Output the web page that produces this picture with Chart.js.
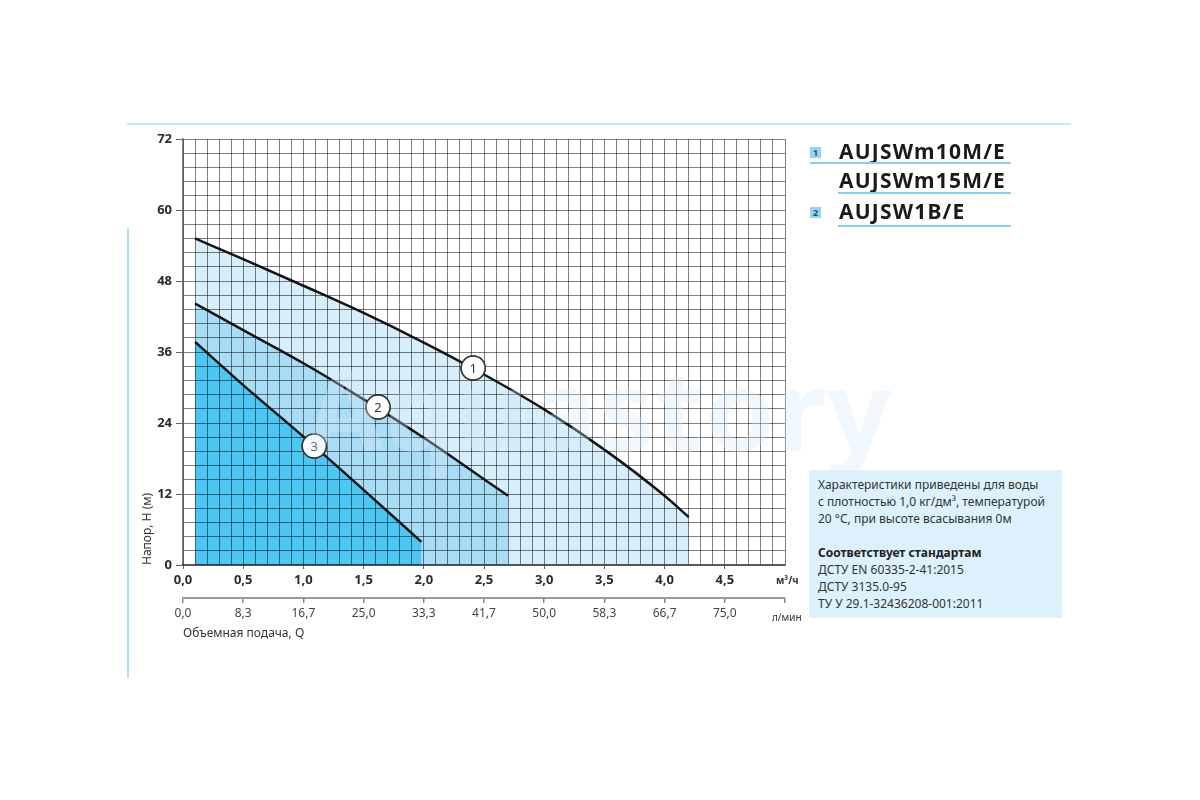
<!DOCTYPE html>
<html>
<head>
<meta charset="utf-8">
<script src="https://cdn.jsdelivr.net/npm/chart.js@4.4.1/dist/chart.umd.min.js"></script>
<style>
  body { margin: 0; background: #fff; font-family: "Noto Sans", sans-serif; color: #333; }
  #wrap { position: relative; width: 1200px; height: 800px; overflow: hidden; }
  #pumpChart { position: absolute; left: 0; top: 0; }
  .deco-h { position: absolute; left: 127px; top: 123px; width: 944px; height: 2px; background: #cbe8f6; }
  .deco-v { position: absolute; left: 127px; top: 228px; width: 2px; height: 450px; background: #b3dff4; }
  .unit { position: absolute; font-size: 10px; color: #333; }
  .num { position: absolute; left: 810px; width: 11px; height: 11px; background: #93d4f2;
         font-size: 9px; font-weight: bold; line-height: 11px; text-align: center; color: #1d4f6a; }
  .name { position: absolute; left: 839px; font-size: 21px; font-weight: bold; letter-spacing: 1.2px;
          color: #1a1a1a; line-height: 24px; }
  .uline { position: absolute; height: 2px; background: #83cfef; }
  #info { position: absolute; left: 809px; top: 470px; width: 253px; height: 148px; background: #dcf1fb;
          font-size: 12px; line-height: 17px; color: #333; box-sizing: border-box; padding: 6px 0 0 9px; }
  #info b { color: #222; }
  #watermark { position: absolute; left: 306px; top: 352px; font-size: 112px; font-weight: bold; line-height: 1;
               color: rgba(214,234,248,0.33); pointer-events: none; letter-spacing: 1px; }
</style>
</head>
<body>
<div id="wrap">
  <div class="deco-h"></div>
  <div class="deco-v"></div>
  <canvas id="pumpChart" width="1200" height="800"></canvas>
  <div id="watermark">Aquastory</div>
  <div class="unit" style="left:776px; top:573px; font-weight:bold;">м³/ч</div>
  <div class="unit" style="left:772px; top:610px;">л/мин</div>
  <div id="legend"></div>
  <div id="info">
    Характеристики приведены для воды<br>
    с плотностью 1,0 кг/дм³, температурой<br>
    20 °C, при высоте всасывания 0м<br>
    <br>
    <b>Соответствует стандартам</b><br>
    ДСТУ EN 60335-2-41:2015<br>
    ДСТУ 3135.0-95<br>
    ТУ У 29.1-32436208-001:2011
  </div>
</div>
<script>
// pump curves: flow Q (m3/h) -> head H (m)
const curve1Q = [0.1, 0.5, 1.0, 1.5, 2.0, 2.5, 3.0, 3.5, 4.0, 4.2];
const curve1H = [55.2, 51.7, 47.2, 42.6, 37.6, 32.2, 26.3, 19.5, 11.7, 8.1];
const curve2Q = [0.1, 0.5, 1.0, 1.5, 2.0, 2.5, 2.7];
const curve2H = [44.2, 39.7, 34.1, 28.0, 21.5, 14.5, 11.7];
const curve3Q = [0.1, 0.5, 1.0, 1.5, 1.98];
const curve3H = [37.7, 30.4, 21.7, 12.7, 3.9];

// numbered circles sitting on the curves
const markerQ = [2.41, 1.62, 1.09];
const markerH = [33.3, 26.7, 20.1];
const markerText = ['1', '2', '3'];

// second axis labels (l/min for every 0.5 m3/h)
const litreTicks = ['0,0', '8,3', '16,7', '25,0', '33,3', '41,7', '50,0', '58,3', '66,7', '75,0'];

const legendNums = ['1', '', '2'];
const legendNames = ['AUJSWm10M/E', 'AUJSWm15M/E', 'AUJSW1B/E'];

const fillColors = ['#d6effb', '#a8ddf6', '#4cc7f3'];

// legend rows: text top, underline top, underline start
const legendTextTop = [139, 168, 199];
const legendLineTop = [162, 192, 225];
const legendLineLeft = [810, 838, 838];

const legendEl = document.getElementById('legend');
legendNames.forEach((name, i) => {
  let html = '';
  if (legendNums[i]) {
    html += '<div class="num" style="top:' + (legendTextTop[i] + 8) + 'px">' + legendNums[i] + '</div>';
  }
  html += '<div class="name" style="top:' + legendTextTop[i] + 'px">' + name + '</div>';
  html += '<div class="uline" style="top:' + legendLineTop[i] + 'px; left:' + legendLineLeft[i] +
          'px; width:' + (1011 - legendLineLeft[i]) + 'px"></div>';
  legendEl.insertAdjacentHTML('beforeend', html);
});

const toPoints = (qs, hs) => qs.map((q, i) => ({ x: q, y: hs[i] }));
const fmt = v => v.toFixed(1).replace('.', ',');
const isMajor = (v, step) => Math.abs(v / step - Math.round(v / step)) < 1e-6;

// circles go on top of the grid, so redraw them last
const markerPlugin = {
  id: 'markers',
  afterDraw(chart) {
    const ctx = chart.ctx;
    const meta = chart.getDatasetMeta(3);
    ctx.save();
    meta.data.forEach((pt, i) => {
      pt.draw(ctx);
      ctx.fillStyle = '#333';
      ctx.font = '13px "Noto Sans"';
      ctx.textAlign = 'center';
      ctx.textBaseline = 'middle';
      ctx.fillText(markerText[i], pt.x, pt.y + 1);
    });
    ctx.restore();
  }
};

const lineDs = (qs, hs, color, order) => ({
  data: toPoints(qs, hs),
  borderColor: '#151515',
  borderWidth: 2.5,
  backgroundColor: color,
  fill: 'origin',
  pointRadius: 0,
  cubicInterpolationMode: 'monotone',
  order: order
});

new Chart(document.getElementById('pumpChart'), {
  type: 'line',
  data: {
    datasets: [
      lineDs(curve1Q, curve1H, fillColors[0], 3),
      lineDs(curve2Q, curve2H, fillColors[1], 2),
      lineDs(curve3Q, curve3H, fillColors[2], 1),
      {
        data: toPoints(markerQ, markerH),
        showLine: false,
        pointRadius: 12,
        pointBackgroundColor: '#fff',
        pointBorderColor: '#333',
        pointBorderWidth: 1.5,
        order: 0
      }
    ]
  },
  plugins: [markerPlugin],
  options: {
    responsive: false,
    animation: false,
    devicePixelRatio: 1,
    layout: { padding: { left: 140, right: 415, top: 139, bottom: 159 } },
    plugins: { legend: { display: false }, tooltip: { enabled: false } },
    scales: {
      x: {
        type: 'linear', position: 'bottom', weight: 0,
        min: 0, max: 5,
        afterFit: s => { s.height = 33; },
        grid: {
          z: 1,
          color: 'rgba(0,0,0,0.5)', lineWidth: 1,
          tickLength: 4,
          tickColor: c => (isMajor(c.tick.value, 0.5) && c.tick.value < 5 ? 'rgba(0,0,0,0.6)' : 'rgba(0,0,0,0)')
        },
        border: { z: 1, color: 'rgba(0,0,0,0.65)', width: 1.5 },
        ticks: {
          stepSize: 0.1, maxTicksLimit: 1000, autoSkip: false, maxRotation: 0, padding: 3,
          color: '#2a2a2a', font: { family: 'Noto Sans', size: 13, weight: 'bold' },
          callback: v => (isMajor(v, 0.5) && v < 5 ? fmt(v) : '')
        }
      },
      x2: {
        type: 'linear', position: 'bottom', weight: 1,
        min: 0, max: 5,
        afterFit: s => { s.height = 43; },
        grid: { drawOnChartArea: false, tickLength: 5, color: '#8a8a8a', lineWidth: 1.5 },
        border: { color: '#999', width: 2 },
        ticks: {
          stepSize: 0.5, autoSkip: false, maxRotation: 0, padding: 3,
          color: '#444', font: { family: 'Noto Sans', size: 12 },
          callback: (v, i) => (i < litreTicks.length ? litreTicks[i] : '')
        },
        title: {
          display: true, text: 'Объемная подача, Q', align: 'start', color: '#333',
          font: { family: 'Noto Sans', size: 12 }, padding: 0
        }
      },
      y: {
        type: 'linear', min: 0, max: 72,
        afterFit: s => { s.width = 43; },
        grid: {
          z: 1,
          color: 'rgba(0,0,0,0.5)', lineWidth: 1,
          tickLength: 7,
          tickColor: c => (isMajor(c.tick.value, 12) ? 'rgba(0,0,0,0.6)' : 'rgba(0,0,0,0)')
        },
        border: { z: 1, color: 'rgba(0,0,0,0.5)', width: 1.5 },
        ticks: {
          stepSize: 2.4, maxTicksLimit: 1000, autoSkip: false, padding: 4,
          color: '#2a2a2a', font: { family: 'Noto Sans', size: 13, weight: 'bold' },
          callback: v => (isMajor(v, 12) ? String(Math.round(v)) : '')
        },
        title: {
          display: true, text: 'Напор, H (м)', align: 'start', color: '#333',
          font: { family: 'Noto Sans', size: 12 }, padding: 0
        }
      }
    }
  }
});
</script>
</body>
</html>
